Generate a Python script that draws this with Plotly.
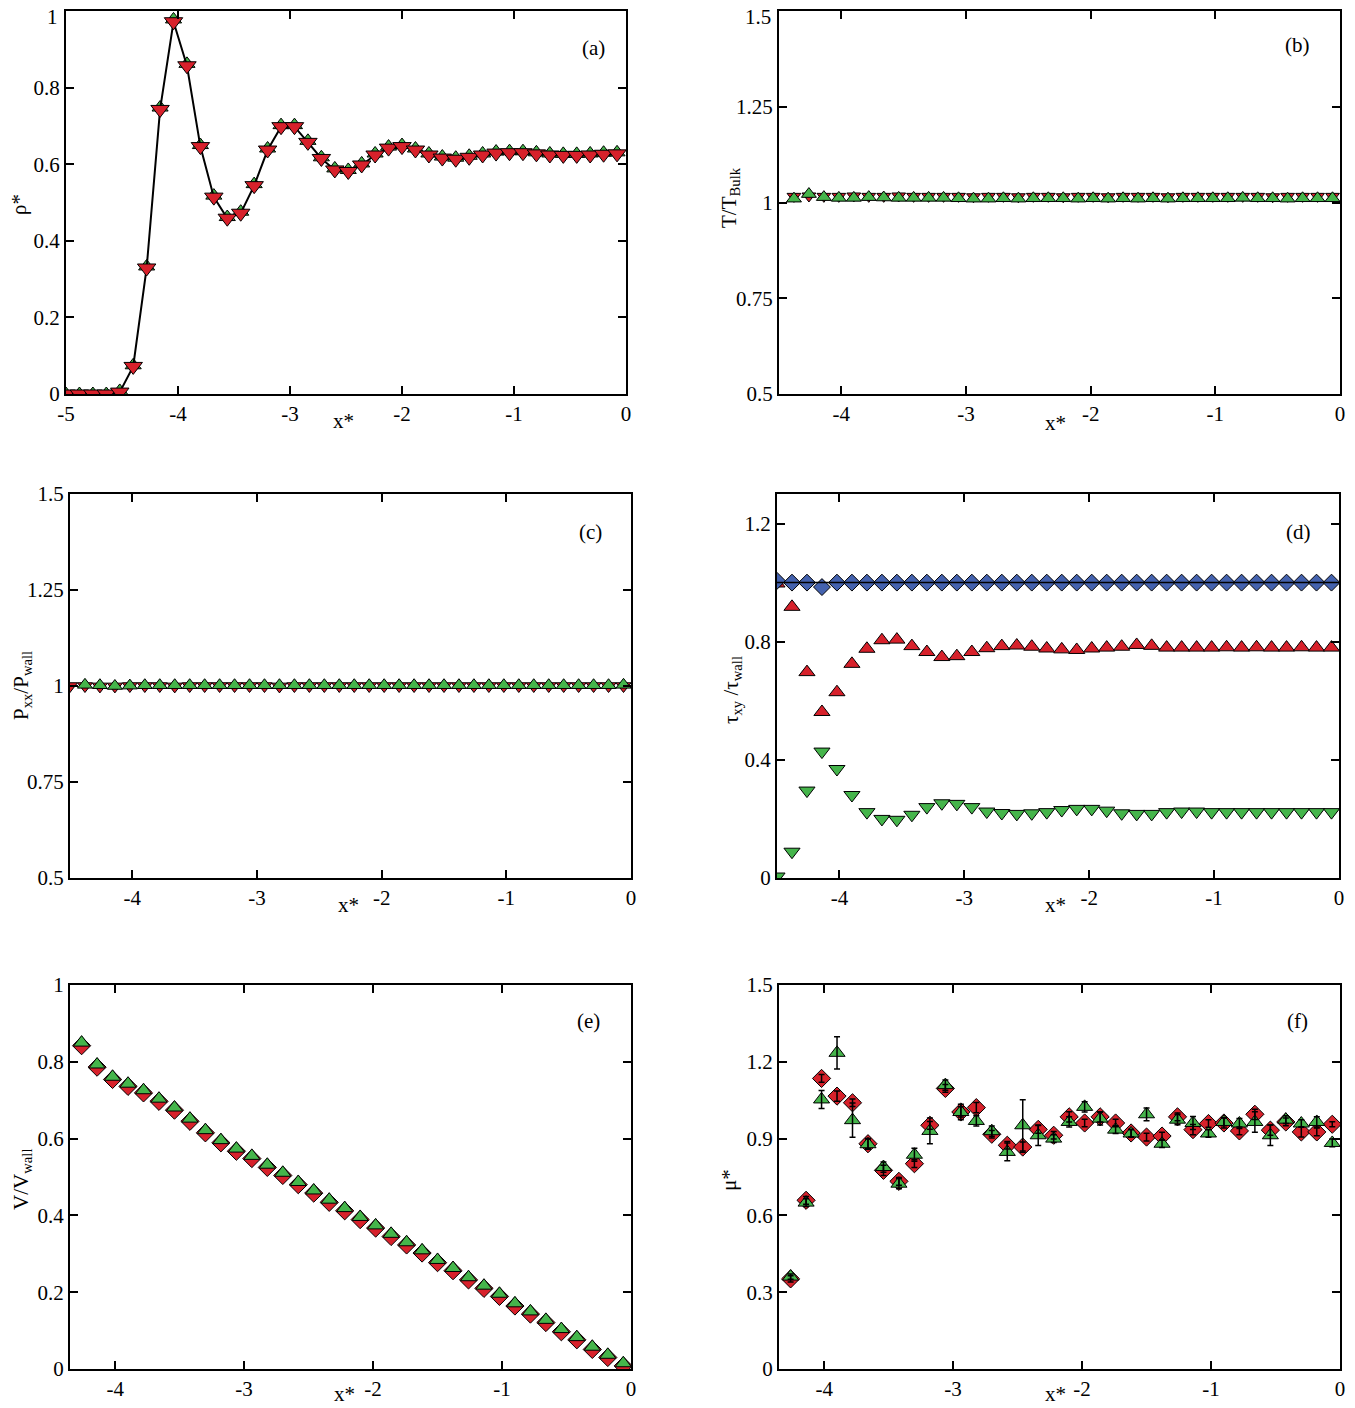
import plotly.graph_objects as go
from plotly.subplots import make_subplots

# ---- data ----
# (a) density
x_a = [-5.00, -4.88, -4.76, -4.64, -4.52, -4.40, -4.28, -4.16, -4.04, -3.92,
       -3.80, -3.68, -3.56, -3.44, -3.32, -3.20, -3.08, -2.96, -2.84, -2.72,
       -2.60, -2.48, -2.36, -2.24, -2.12, -2.00, -1.88, -1.76, -1.64, -1.52,
       -1.40, -1.28, -1.16, -1.04, -0.92, -0.80, -0.68, -0.56, -0.44, -0.32,
       -0.20, -0.08]
rho_red = [0.0, 0.0, 0.0, 0.0, 0.005, 0.072, 0.329, 0.743, 0.972, 0.857,
           0.646, 0.514, 0.459, 0.472, 0.544, 0.637, 0.698, 0.698, 0.657, 0.615,
           0.585, 0.581, 0.598, 0.624, 0.642, 0.646, 0.637, 0.624, 0.616, 0.613,
           0.618, 0.624, 0.629, 0.630, 0.630, 0.627, 0.624, 0.623, 0.623, 0.624,
           0.626, 0.627]
rho_green = [0.0, 0.0, 0.0, 0.0, 0.008, 0.075, 0.333, 0.748, 0.978, 0.862,
             0.650, 0.518, 0.462, 0.476, 0.548, 0.641, 0.702, 0.702, 0.661, 0.618,
             0.589, 0.585, 0.602, 0.628, 0.646, 0.650, 0.641, 0.628, 0.620, 0.617,
             0.622, 0.628, 0.633, 0.634, 0.634, 0.631, 0.628, 0.627, 0.627, 0.628,
             0.630, 0.631]

# (b), (c), (d) grid
x_d = [-4.50, -4.38, -4.26, -4.14, -4.02, -3.90, -3.78, -3.66, -3.54, -3.42,
       -3.30, -3.18, -3.06, -2.94, -2.82, -2.70, -2.58, -2.46, -2.34, -2.22,
       -2.10, -1.98, -1.86, -1.74, -1.62, -1.50, -1.38, -1.26, -1.14, -1.02,
       -0.90, -0.78, -0.66, -0.54, -0.42, -0.30, -0.18, -0.06]
x_b = x_d[1:]

# (b) temperature
t_red = [1.016, 1.017, 1.016, 1.016, 1.017, 1.016, 1.016, 1.017, 1.016, 1.016,
         1.016, 1.016, 1.015, 1.016, 1.016, 1.015, 1.016, 1.016, 1.015, 1.016,
         1.016, 1.015, 1.016, 1.016, 1.016, 1.015, 1.016, 1.016, 1.016, 1.016,
         1.016, 1.016, 1.015, 1.016, 1.016, 1.016, 1.016]
t_green = [1.010, 1.022, 1.014, 1.012, 1.012, 1.014, 1.013, 1.012, 1.012, 1.012,
           1.012, 1.011, 1.010, 1.010, 1.011, 1.010, 1.011, 1.011, 1.011, 1.010,
           1.011, 1.010, 1.011, 1.010, 1.011, 1.010, 1.011, 1.011, 1.011, 1.011,
           1.012, 1.011, 1.011, 1.010, 1.011, 1.011, 1.011]

# (c) normal pressure
p_red = [1.000, 1.000, 0.999, 0.999, 1.000, 1.000, 1.000, 0.999, 1.000, 1.000,
         1.000, 1.000, 1.000, 1.000, 0.999, 1.000, 1.000, 1.000, 1.000, 1.000,
         1.000, 1.000, 1.000, 1.000, 1.000, 1.000, 1.000, 1.000, 1.000, 1.000,
         1.000, 1.000, 1.000, 1.000, 1.000, 1.000, 1.000, 1.000]
p_green = [1.003, 1.002, 1.000, 1.001, 1.002, 1.002, 1.002, 1.002, 1.002, 1.002,
           1.002, 1.002, 1.002, 1.002, 1.002, 1.002, 1.002, 1.002, 1.002, 1.002,
           1.002, 1.002, 1.002, 1.002, 1.002, 1.002, 1.002, 1.002, 1.002, 1.002,
           1.002, 1.002, 1.002, 1.002, 1.002, 1.002, 1.003]

# (d) shear stress
tau_total = [1.006, 1.000, 1.000, 0.985, 1.000, 1.000, 1.000, 1.000, 1.000, 1.000,
             1.000, 1.000, 1.000, 1.000, 1.000, 1.000, 1.000, 1.000, 1.000, 1.000,
             1.000, 1.000, 1.000, 1.000, 1.000, 1.000, 1.000, 1.000, 1.000, 1.000,
             1.000, 1.000, 1.000, 1.000, 1.000, 1.000, 1.000, 1.000]
tau_red = [0.997, 0.918, 0.697, 0.562, 0.629, 0.725, 0.776, 0.805, 0.807, 0.785,
           0.765, 0.748, 0.751, 0.765, 0.778, 0.785, 0.787, 0.783, 0.777, 0.774,
           0.772, 0.777, 0.780, 0.783, 0.789, 0.786, 0.780, 0.780, 0.780, 0.780,
           0.781, 0.780, 0.781, 0.780, 0.780, 0.781, 0.780, 0.780]
tau_green = [0.005, 0.089, 0.296, 0.428, 0.369, 0.281, 0.223, 0.200, 0.197, 0.214,
             0.240, 0.253, 0.251, 0.240, 0.225, 0.220, 0.217, 0.219, 0.223, 0.230,
             0.234, 0.234, 0.228, 0.219, 0.217, 0.217, 0.223, 0.225, 0.225, 0.223,
             0.223, 0.223, 0.223, 0.223, 0.223, 0.223, 0.223, 0.223]

# (e), (f) grid
x_e = [-4.26, -4.14, -4.02, -3.90, -3.78, -3.66, -3.54, -3.42, -3.30, -3.18,
       -3.06, -2.94, -2.82, -2.70, -2.58, -2.46, -2.34, -2.22, -2.10, -1.98,
       -1.86, -1.74, -1.62, -1.50, -1.38, -1.26, -1.14, -1.02, -0.90, -0.78,
       -0.66, -0.54, -0.42, -0.30, -0.18, -0.06]

# (e) velocity
v_red = [0.842, 0.786, 0.754, 0.736, 0.719, 0.697, 0.674, 0.645, 0.615, 0.589,
         0.567, 0.548, 0.525, 0.504, 0.480, 0.458, 0.434, 0.412, 0.389, 0.367,
         0.345, 0.323, 0.302, 0.277, 0.256, 0.232, 0.210, 0.189, 0.164, 0.143,
         0.121, 0.097, 0.076, 0.051, 0.030, 0.008]
v_green = [0.850, 0.793, 0.761, 0.743, 0.726, 0.704, 0.681, 0.652, 0.622, 0.596,
           0.574, 0.555, 0.532, 0.511, 0.487, 0.465, 0.441, 0.419, 0.396, 0.374,
           0.352, 0.330, 0.309, 0.284, 0.263, 0.239, 0.217, 0.196, 0.171, 0.150,
           0.128, 0.104, 0.083, 0.058, 0.037, 0.015]

# (f) viscosity
mu_red = [0.352, 0.659, 1.135, 1.066, 1.040, 0.880, 0.776, 0.733, 0.802, 0.952,
          1.096, 1.004, 1.021, 0.917, 0.874, 0.867, 0.936, 0.913, 0.985, 0.961,
          0.985, 0.961, 0.922, 0.906, 0.910, 0.985, 0.935, 0.959, 0.961, 0.930,
          0.995, 0.933, 0.965, 0.926, 0.926, 0.956]
mu_red_err = [0.012, 0.015, 0.015, 0.020, 0.015, 0.020, 0.020, 0.015, 0.015, 0.015,
              0.015, 0.020, 0.020, 0.015, 0.015, 0.020, 0.015, 0.015, 0.020, 0.015,
              0.020, 0.015, 0.015, 0.015, 0.015, 0.015, 0.020, 0.015, 0.020, 0.015,
              0.020, 0.020, 0.015, 0.020, 0.015, 0.010]
mu_green = [0.361, 0.650, 1.053, 1.235, 0.972, 0.878, 0.789, 0.724, 0.837, 0.930,
            1.109, 1.004, 0.969, 0.929, 0.848, 0.952, 0.913, 0.900, 0.965, 1.024,
            0.978, 0.935, 0.920, 0.995, 0.880, 0.974, 0.961, 0.920, 0.965, 0.959,
            0.965, 0.913, 0.974, 0.959, 0.965, 0.883]
mu_green_err = [0.010, 0.015, 0.035, 0.063, 0.067, 0.020, 0.020, 0.020, 0.025, 0.050,
                0.020, 0.030, 0.020, 0.020, 0.035, 0.100, 0.040, 0.015, 0.020, 0.020,
                0.025, 0.015, 0.015, 0.025, 0.015, 0.020, 0.025, 0.015, 0.015, 0.020,
                0.040, 0.040, 0.015, 0.015, 0.020, 0.015]

# ---- styling ----
RED = '#d7212b'
GREEN = '#45b54b'
BLUE = '#4462ae'
FONT = 'Liberation Serif'
TICK_SIZE = 21
OFF = 8                      # page body margin in the browser
W, H = 1355 - OFF, 1408 - OFF

def mk(symbol, color, size):
    return dict(symbol=symbol, color=color, size=size, line=dict(color='black', width=1))

fig = make_subplots(rows=3, cols=2)

# (a)
fig.add_trace(go.Scatter(x=x_a, y=rho_green, mode='markers', marker=mk('triangle-up', GREEN, 14)), row=1, col=1)
fig.add_trace(go.Scatter(x=x_a, y=rho_red, mode='lines+markers', line=dict(color='black', width=2),
                         marker=mk('triangle-down', RED, 16)), row=1, col=1)
# (b)
fig.add_trace(go.Scatter(x=x_b, y=t_red, mode='markers', marker=mk('triangle-down', RED, 12)), row=1, col=2)
fig.add_trace(go.Scatter(x=x_b, y=t_green, mode='markers', marker=mk('triangle-up', GREEN, 13)), row=1, col=2)
# (c)
fig.add_trace(go.Scatter(x=x_d, y=p_red, mode='markers', marker=mk('triangle-down', RED, 13)), row=2, col=1)
fig.add_trace(go.Scatter(x=x_b, y=p_green, mode='markers', marker=mk('triangle-up', GREEN, 13)), row=2, col=1)
# (d)
fig.add_trace(go.Scatter(x=x_d, y=tau_red, mode='markers', marker=mk('triangle-up', RED, 14)), row=2, col=2)
fig.add_trace(go.Scatter(x=x_d, y=tau_green, mode='markers', marker=mk('triangle-down', GREEN, 14)), row=2, col=2)
fig.add_trace(go.Scatter(x=x_d, y=tau_total, mode='markers', marker=mk('diamond', BLUE, 13)), row=2, col=2)
# (e)
fig.add_trace(go.Scatter(x=x_e, y=v_red, mode='markers', marker=mk('diamond', RED, 14)), row=3, col=1)
fig.add_trace(go.Scatter(x=x_e, y=v_green, mode='markers', marker=mk('triangle-up', GREEN, 14)), row=3, col=1)
# (f)
fig.add_trace(go.Scatter(x=x_e, y=mu_red, mode='markers', marker=mk('diamond', RED, 14)), row=3, col=2)
fig.add_trace(go.Scatter(x=x_e, y=mu_green, mode='markers', marker=mk('triangle-up', GREEN, 14)), row=3, col=2)
for yy, ee in [(mu_red, mu_red_err), (mu_green, mu_green_err)]:
    fig.add_trace(go.Scatter(x=x_e, y=yy, mode='markers', marker=dict(size=1, color='rgba(0,0,0,0)'),
                             error_y=dict(type='data', array=ee, color='black', thickness=1.5, width=3)),
                  row=3, col=2)

# (d) reference line at 1
fig.add_shape(type='line', xref='x4 domain', yref='y4', x0=0, x1=1, y0=1, y1=1,
              line=dict(color='black', width=1.5))

# ---- axes ----
def px_dom(a, b):
    return [(a - OFF) / W, (b - OFF) / W]

def py_dom(top, bot):
    return [1 - (bot - OFF) / H, 1 - (top - OFF) / H]

panels = [
    # (x0px, x1px, y_top, y_bot, xrange, yrange, yticks, yticktext)
    (66, 626, 11, 394, [-5, 0], [0, 1], [0, 0.2, 0.4, 0.6, 0.8, 1], ['0', '0.2', '0.4', '0.6', '0.8', '']),
    (779, 1340, 11, 394, [-4.5, 0], [0.5, 1.5], [0.5, 0.75, 1, 1.25, 1.5], ['0.5', '0.75', '1', '1.25', '']),
    (70, 631, 494, 878, [-4.5, 0], [0.5, 1.5], [0.5, 0.75, 1, 1.25, 1.5], ['0.5', '0.75', '1', '1.25', '1.5']),
    (777, 1339, 494, 878, [-4.5, 0], [0, 1.3], [0, 0.4, 0.8, 1.2], ['0', '0.4', '0.8', '1.2']),
    (70, 631, 985, 1369, [-4.35, 0], [0, 1], [0, 0.2, 0.4, 0.6, 0.8, 1], ['0', '0.2', '0.4', '0.6', '0.8', '1']),
    (779, 1340, 985, 1369, [-4.35, 0], [0, 1.5], [0, 0.3, 0.6, 0.9, 1.2, 1.5], ['0', '0.3', '0.6', '0.9', '1.2', '1.5']),
]
xt = [-5, -4, -3, -2, -1, 0]
xtt = ['-5', '-4', '-3', '-2', '-1', '0']
axis_common = dict(showline=True, linecolor='black', linewidth=2, mirror='allticks', ticks='inside',
                   ticklen=8, tickwidth=2, tickcolor='black', showgrid=False, zeroline=False,
                   tickfont=dict(family=FONT, size=TICK_SIZE, color='black'), automargin=False)
for i, (x0, x1, yt, yb, xr, yr, yv, ytt) in enumerate(panels):
    k = '' if i == 0 else str(i + 1)
    fig.layout['xaxis' + k].update(domain=px_dom(x0, x1), range=xr, tickvals=xt, ticktext=xtt, **axis_common)
    fig.layout['yaxis' + k].update(domain=py_dom(yt, yb), range=yr, tickvals=yv, ticktext=ytt, **axis_common)

# ---- text ----
def ann(text, px, py, size=21, angle=0, xanchor='center'):
    fig.add_annotation(text=text, x=(px - OFF) / W, y=1 - (py - OFF) / H, xref='paper', yref='paper',
                       showarrow=False, textangle=angle, font=dict(family=FONT, size=size, color='black'),
                       xanchor=xanchor, yanchor='middle')

# top tick labels of (a) and (b) sit at the very top edge of the page
ann('1', 60, 17, size=TICK_SIZE, xanchor='right')
ann('1.5', 773, 17, size=TICK_SIZE, xanchor='right')

for lab, px, py in [('(a)', 593, 48), ('(b)', 1297, 45), ('(c)', 590, 532), ('(d)', 1298, 532),
                    ('(e)', 588, 1021), ('(f)', 1297, 1021)]:
    ann(lab, px, py, size=21)

for px, py in [(343, 421), (1055, 423), (348, 905), (1055, 905), (345, 1394), (1055, 1394)]:
    ann('x*', px, py, size=21)

for txt, px, py in [('ρ*', 19, 205), ('T/T<sub>Bulk</sub>', 730, 198), ('P<sub>xx</sub>/P<sub>wall</sub>', 22, 686),
                    ('τ<sub>xy</sub> /τ<sub>wall</sub>', 732, 690), ('V/V<sub>wall</sub>', 22, 1180),
                    ('μ*', 729, 1180)]:
    ann(txt, px, py, size=21, angle=-90)

fig.update_layout(width=W, height=H, margin=dict(l=0, r=0, t=0, b=0), showlegend=False,
                  plot_bgcolor='white', paper_bgcolor='white', font=dict(family=FONT))

fig.write_html("out.html")
